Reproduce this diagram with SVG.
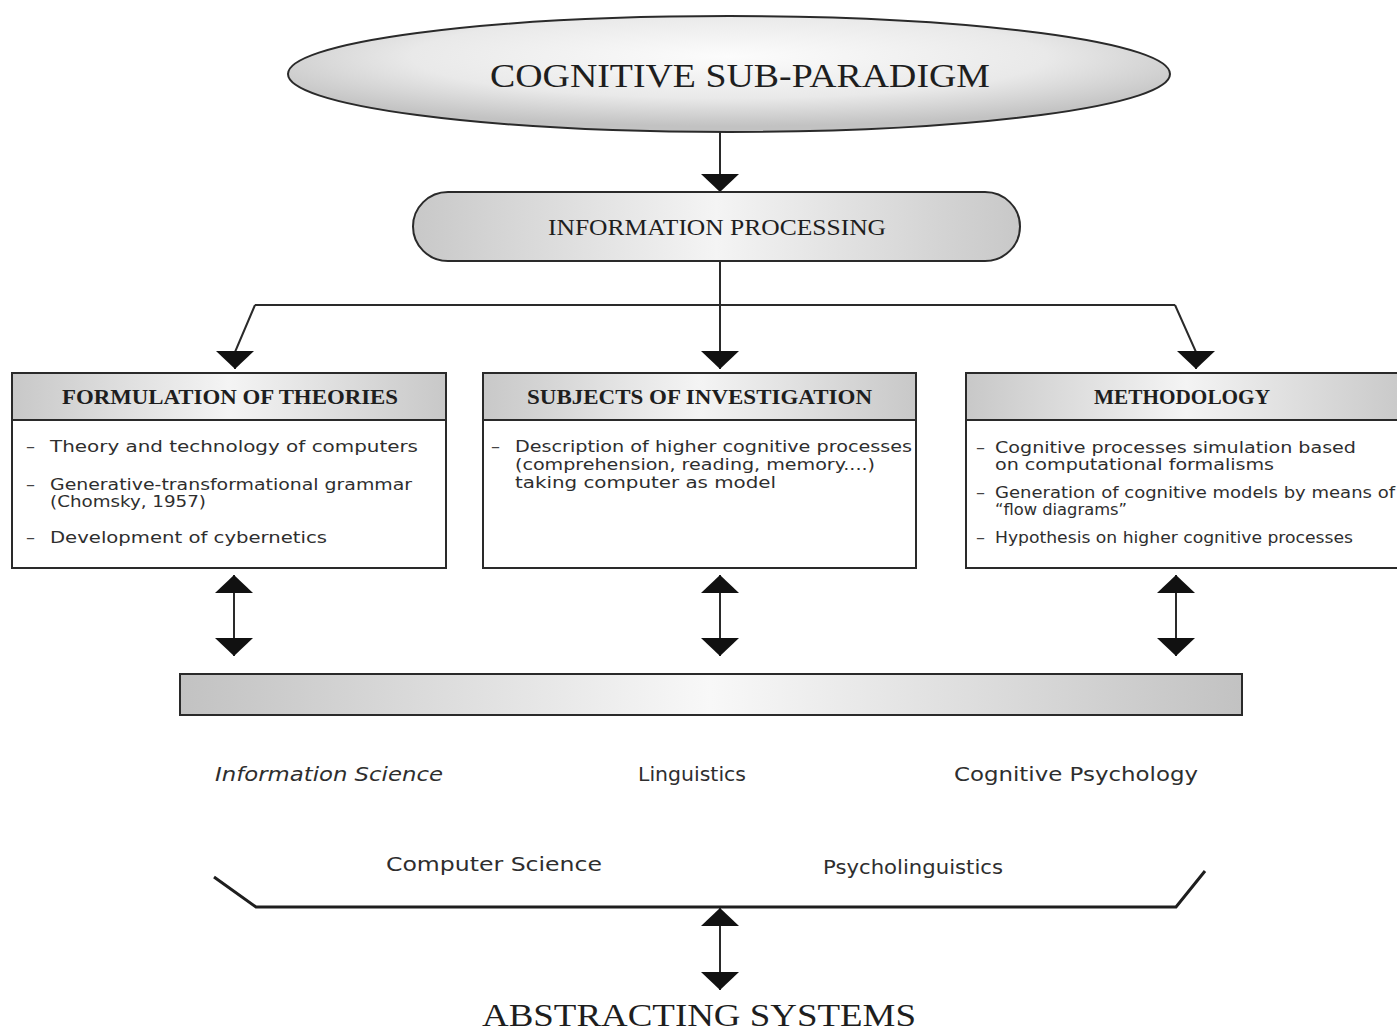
<svg xmlns="http://www.w3.org/2000/svg" width="1397" height="1033" viewBox="0 0 1397 1033">
<style>
.ln{fill:none;stroke:#2a2a2a;stroke-width:2}
.box{fill:#fff;stroke:#2a2a2a;stroke-width:2}
.hd{fill:url(#hg);stroke:#2a2a2a;stroke-width:2}
.serif{font-family:"Liberation Serif","Times New Roman",serif;fill:#1e1e1e}
.hdt{font-family:"Liberation Serif","Times New Roman",serif;font-weight:bold;font-size:20px;fill:#1e1e1e}
.bt{font-family:"DejaVu Sans","Liberation Sans",sans-serif;font-size:16px;fill:#2e2e2e}
.dash{font-family:"DejaVu Sans","Liberation Sans",sans-serif;font-size:18px;fill:#444}
.lab{font-family:"DejaVu Sans","Liberation Sans",sans-serif;font-size:20px;fill:#2e2e2e}
</style>
<defs>
<radialGradient id="eg" cx="50%" cy="35%" r="60%">
<stop offset="0" stop-color="#fcfcfc"/><stop offset="0.6" stop-color="#e9e9e9"/><stop offset="1" stop-color="#c2c2c2"/>
</radialGradient>
<linearGradient id="hg" x1="0" y1="0" x2="1" y2="0">
<stop offset="0" stop-color="#c8c8c8"/><stop offset="0.5" stop-color="#f4f4f4"/><stop offset="1" stop-color="#c8c8c8"/>
</linearGradient>
<linearGradient id="bg" x1="0" y1="0" x2="1" y2="0">
<stop offset="0" stop-color="#c2c2c2"/><stop offset="0.5" stop-color="#f8f8f8"/><stop offset="1" stop-color="#c2c2c2"/>
</linearGradient>
<marker id="ah" viewBox="0 0 18 38" refX="18" refY="19" markerWidth="18" markerHeight="38" markerUnits="userSpaceOnUse" orient="auto-start-reverse">
<path d="M0,0 L18,19 L0,38 Z" fill="#111"/>
</marker>
</defs>
<rect width="1397" height="1033" fill="#fff"/>

<g id="connectors">
<path class="ln" d="M720,132 L720,192" marker-end="url(#ah)"/>
<path class="ln" d="M720,261 L720,369" marker-end="url(#ah)"/>
<path class="ln" d="M255,305 L1175,305"/>
<path class="ln" d="M255,305 L235,352 L235,369" marker-end="url(#ah)"/>
<path class="ln" d="M1175,305 L1196,352 L1196,369" marker-end="url(#ah)"/>
<path class="ln" d="M234,575 L234,656" marker-start="url(#ah)" marker-end="url(#ah)"/>
<path class="ln" d="M720,575 L720,656" marker-start="url(#ah)" marker-end="url(#ah)"/>
<path class="ln" d="M1176,575 L1176,656" marker-start="url(#ah)" marker-end="url(#ah)"/>
<path class="ln" d="M720,908 L720,990" marker-start="url(#ah)" marker-end="url(#ah)"/>
</g>

<g id="cognitive-sub-paradigm">
<ellipse cx="729" cy="74" rx="441" ry="58" fill="url(#eg)" stroke="#2a2a2a" stroke-width="2"/>
<text class="serif" x="490" y="87" font-size="33" textLength="500" lengthAdjust="spacingAndGlyphs">COGNITIVE  SUB-PARADIGM</text>
</g>

<g id="information-processing">
<rect x="413" y="192" width="607" height="69" rx="35" fill="url(#hg)" stroke="#2a2a2a" stroke-width="2"/>
<text class="serif" x="548" y="235" font-size="23" textLength="338" lengthAdjust="spacingAndGlyphs">INFORMATION  PROCESSING</text>
</g>

<g id="formulation-of-theories">
<rect class="box" x="12" y="373" width="434" height="195"/>
<rect class="hd" x="12" y="373" width="434" height="47"/>
<text class="hdt" x="62" y="404" textLength="336" lengthAdjust="spacingAndGlyphs">FORMULATION  OF  THEORIES</text>
<text class="dash" x="26" y="452">–</text>
<text class="bt" x="50" y="452" textLength="368" lengthAdjust="spacingAndGlyphs">Theory and technology of computers</text>
<text class="dash" x="26" y="490">–</text>
<text class="bt" x="50" y="490" textLength="362" lengthAdjust="spacingAndGlyphs">Generative-transformational grammar</text>
<text class="bt" x="50" y="507" textLength="156" lengthAdjust="spacingAndGlyphs">(Chomsky, 1957)</text>
<text class="dash" x="26" y="543">–</text>
<text class="bt" x="50" y="543" textLength="277" lengthAdjust="spacingAndGlyphs">Development of cybernetics</text>
</g>

<g id="subjects-of-investigation">
<rect class="box" x="483" y="373" width="433" height="195"/>
<rect class="hd" x="483" y="373" width="433" height="47"/>
<text class="hdt" x="527" y="404" textLength="345" lengthAdjust="spacingAndGlyphs">SUBJECTS  OF  INVESTIGATION</text>
<text class="dash" x="491" y="452">–</text>
<text class="bt" x="515" y="452" textLength="397" lengthAdjust="spacingAndGlyphs">Description of higher cognitive processes</text>
<text class="bt" x="515" y="470" textLength="360" lengthAdjust="spacingAndGlyphs">(comprehension, reading, memory....)</text>
<text class="bt" x="515" y="488" textLength="261" lengthAdjust="spacingAndGlyphs">taking computer as model</text>
</g>

<g id="methodology">
<rect class="box" x="966" y="373" width="440" height="195"/>
<rect class="hd" x="966" y="373" width="440" height="47"/>
<text class="hdt" x="1094" y="404" textLength="176" lengthAdjust="spacingAndGlyphs">METHODOLOGY</text>
<text class="dash" x="976" y="453">–</text>
<text class="bt" x="995" y="453" textLength="361" lengthAdjust="spacingAndGlyphs">Cognitive processes simulation based</text>
<text class="bt" x="995" y="470" textLength="279" lengthAdjust="spacingAndGlyphs">on computational formalisms</text>
<text class="dash" x="976" y="498">–</text>
<text class="bt" x="995" y="498" textLength="400" lengthAdjust="spacingAndGlyphs">Generation of cognitive models by means of</text>
<text class="bt" x="995" y="515" textLength="132" lengthAdjust="spacingAndGlyphs">“flow diagrams”</text>
<text class="dash" x="976" y="543">–</text>
<text class="bt" x="995" y="543" textLength="358" lengthAdjust="spacingAndGlyphs">Hypothesis on higher cognitive processes</text>
</g>

<g id="disciplines-bar">
<rect x="180" y="674" width="1062" height="41" fill="url(#bg)" stroke="#2a2a2a" stroke-width="2"/>
</g>

<g id="information-science"><text class="lab" x="215" y="781" font-style="italic" textLength="228" lengthAdjust="spacingAndGlyphs">Information Science</text></g>
<g id="linguistics"><text class="lab" x="638" y="781" textLength="108" lengthAdjust="spacingAndGlyphs">Linguistics</text></g>
<g id="cognitive-psychology"><text class="lab" x="954" y="781" textLength="244" lengthAdjust="spacingAndGlyphs">Cognitive Psychology</text></g>
<g id="computer-science"><text class="lab" x="386" y="871" textLength="216" lengthAdjust="spacingAndGlyphs">Computer Science</text></g>
<g id="psycholinguistics"><text class="lab" x="823" y="874" textLength="180" lengthAdjust="spacingAndGlyphs">Psycholinguistics</text></g>

<g id="bracket">
<polyline points="214,877 256,907 1176,907 1205,871" fill="none" stroke="#1e1e1e" stroke-width="3"/>
</g>

<g id="abstracting-systems">
<text class="serif" x="482" y="1026" font-size="32" textLength="434" lengthAdjust="spacingAndGlyphs">ABSTRACTING  SYSTEMS</text>
</g>
</svg>
